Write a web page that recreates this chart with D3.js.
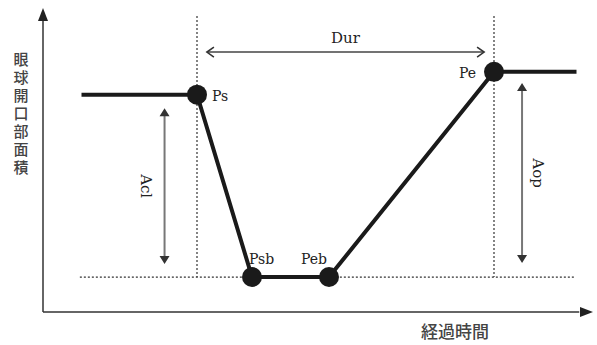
<!DOCTYPE html>
<html>
<head>
<meta charset="utf-8">
<script src="https://cdn.jsdelivr.net/npm/d3@7"></script>
<style>
  body { margin: 0; background: #fff; }
  svg { display: block; }
</style>
</head>
<body>
<svg id="chart" width="597" height="345"></svg>
<script>
// eyelid curve: time (arbitrary units) vs eye opening area
var curveTime = [7, 28, 38, 52, 82, 97];
var curveArea = [71.5, 71.5, 11.5, 11.5, 79, 79];

// the four labelled points
var pointNames = ['Ps', 'Psb', 'Peb', 'Pe'];
var pointIdx = [1, 2, 3, 4];

// annotation arrows
var durRange = [29.8, 80.2];   // time span
var durLevel = 85.5;
var aclX = 22.1;
var aclRange = [67, 15.8];
var aopX = 87.1;
var aopRange = [75.3, 16.1];

var guideTop = 97.4;
var baseRange = [6.7, 96.7];

var yTitle = '眼球開口部面積';
var xTitle = '経過時間';

var svg = d3.select('#chart');

var x = d3.scaleLinear().domain([0, 100]).range([43, 593]);
var y = d3.scaleLinear().domain([0, 100]).range([312, 8]);

var serif = '"DejaVu Serif", serif';
var jp = '"Noto Sans CJK JP", sans-serif';

// axes with arrow heads
svg.append('line')
  .attr('x1', x(0)).attr('x2', x(0))
  .attr('y1', y(0)).attr('y2', y(96))
  .attr('stroke', '#333').attr('stroke-width', 1.5);
svg.append('path')
  .attr('d', `M${x(0)},${y(100)} L${x(0) - 5},${y(100) + 13} L${x(0) + 5},${y(100) + 13} Z`)
  .attr('fill', '#222');

svg.append('line')
  .attr('x1', x(0)).attr('x2', x(97.5))
  .attr('y1', y(0)).attr('y2', y(0))
  .attr('stroke', '#333').attr('stroke-width', 1.5);
svg.append('path')
  .attr('d', `M${x(100)},${y(0)} L${x(100) - 13},${y(0) - 5} L${x(100) - 13},${y(0) + 5} Z`)
  .attr('fill', '#222');

// dotted guides
var guides = svg.append('g')
  .attr('stroke', '#333')
  .attr('stroke-width', 1.2)
  .attr('stroke-dasharray', '2,2');

guides.append('line')
  .attr('x1', x(baseRange[0])).attr('x2', x(baseRange[1]))
  .attr('y1', y(curveArea[2])).attr('y2', y(curveArea[2]));

[curveTime[1], curveTime[4]].forEach(function(t) {
  guides.append('line')
    .attr('x1', x(t)).attr('x2', x(t))
    .attr('y1', y(guideTop)).attr('y2', y(curveArea[2]));
});

// the curve
var pts = curveTime.map(function(t, i) { return [t, curveArea[i]]; });

svg.append('path')
  .datum(pts)
  .attr('fill', 'none')
  .attr('stroke', '#1a1a1a')
  .attr('stroke-width', 4)
  .attr('d', d3.line().x(d => x(d[0])).y(d => y(d[1])));

svg.selectAll('circle.pt')
  .data(pointIdx)
  .enter().append('circle')
  .attr('class', 'pt')
  .attr('cx', i => x(curveTime[i]))
  .attr('cy', i => y(curveArea[i]))
  .attr('r', 10)
  .attr('fill', '#1a1a1a');

// point labels
var labelOffsets = [[15, 6, 'start'], [-3, -13, 'start'], [-2, -13, 'end'], [-18, 6, 'end']];
svg.selectAll('text.pt')
  .data(pointIdx)
  .enter().append('text')
  .attr('class', 'pt')
  .attr('x', (i, k) => x(curveTime[i]) + labelOffsets[k][0])
  .attr('y', (i, k) => y(curveArea[i]) + labelOffsets[k][1])
  .attr('text-anchor', (i, k) => labelOffsets[k][2])
  .attr('font-family', serif)
  .attr('font-size', 14)
  .attr('fill', '#222')
  .text((i, k) => pointNames[k]);

// Dur arrow (open chevrons)
var dy = y(durLevel);
svg.append('line')
  .attr('x1', x(durRange[0])).attr('x2', x(durRange[1]))
  .attr('y1', dy).attr('y2', dy)
  .attr('stroke', '#444').attr('stroke-width', 1.5);
svg.append('path')
  .attr('d', `M${x(durRange[0]) + 7},${dy - 5} L${x(durRange[0])},${dy} L${x(durRange[0]) + 7},${dy + 5}` +
             `M${x(durRange[1]) - 7},${dy - 5} L${x(durRange[1])},${dy} L${x(durRange[1]) - 7},${dy + 5}`)
  .attr('fill', 'none').attr('stroke', '#333').attr('stroke-width', 1.6);
svg.append('text')
  .attr('x', (x(durRange[0]) + x(durRange[1])) / 2)
  .attr('y', dy - 9)
  .attr('text-anchor', 'middle')
  .attr('font-family', serif)
  .attr('font-size', 15)
  .attr('fill', '#222')
  .text('Dur');

// vertical double arrows
function vArrow(xv, range, label, lx) {
  var px = x(xv), y1 = y(range[0]), y2 = y(range[1]);
  svg.append('line')
    .attr('x1', px).attr('x2', px)
    .attr('y1', y1 + 6).attr('y2', y2 - 6)
    .attr('stroke', '#777').attr('stroke-width', 2);
  svg.append('path')
    .attr('d', `M${px},${y1} L${px - 5},${y1 + 8} L${px + 5},${y1 + 8} Z` +
               `M${px},${y2} L${px - 5},${y2 - 8} L${px + 5},${y2 - 8} Z`)
    .attr('fill', '#333');
  svg.append('text')
    .attr('transform', `translate(${px + lx},${(y1 + y2) / 2}) rotate(90)`)
    .attr('text-anchor', 'middle')
    .attr('font-family', serif)
    .attr('font-size', 15)
    .attr('fill', '#222')
    .text(label);
}
vArrow(aclX, aclRange, 'Acl', -24);
vArrow(aopX, aopRange, 'Aop', 11);

// axis titles (y title set vertically, upright glyphs)
svg.append('text')
  .attr('x', 21)
  .attr('y', 52)
  .attr('font-family', jp)
  .attr('font-size', 15)
  .attr('font-weight', 500)
  .attr('fill', '#444')
  .style('writing-mode', 'vertical-rl')
  .style('text-orientation', 'upright')
  .style('letter-spacing', '3px')
  .text(yTitle);

svg.append('text')
  .attr('x', 455)
  .attr('y', 338)
  .attr('text-anchor', 'middle')
  .attr('font-family', jp)
  .attr('font-size', 17)
  .attr('font-weight', 500)
  .attr('fill', '#444')
  .text(xTitle);
</script>
</body>
</html>
